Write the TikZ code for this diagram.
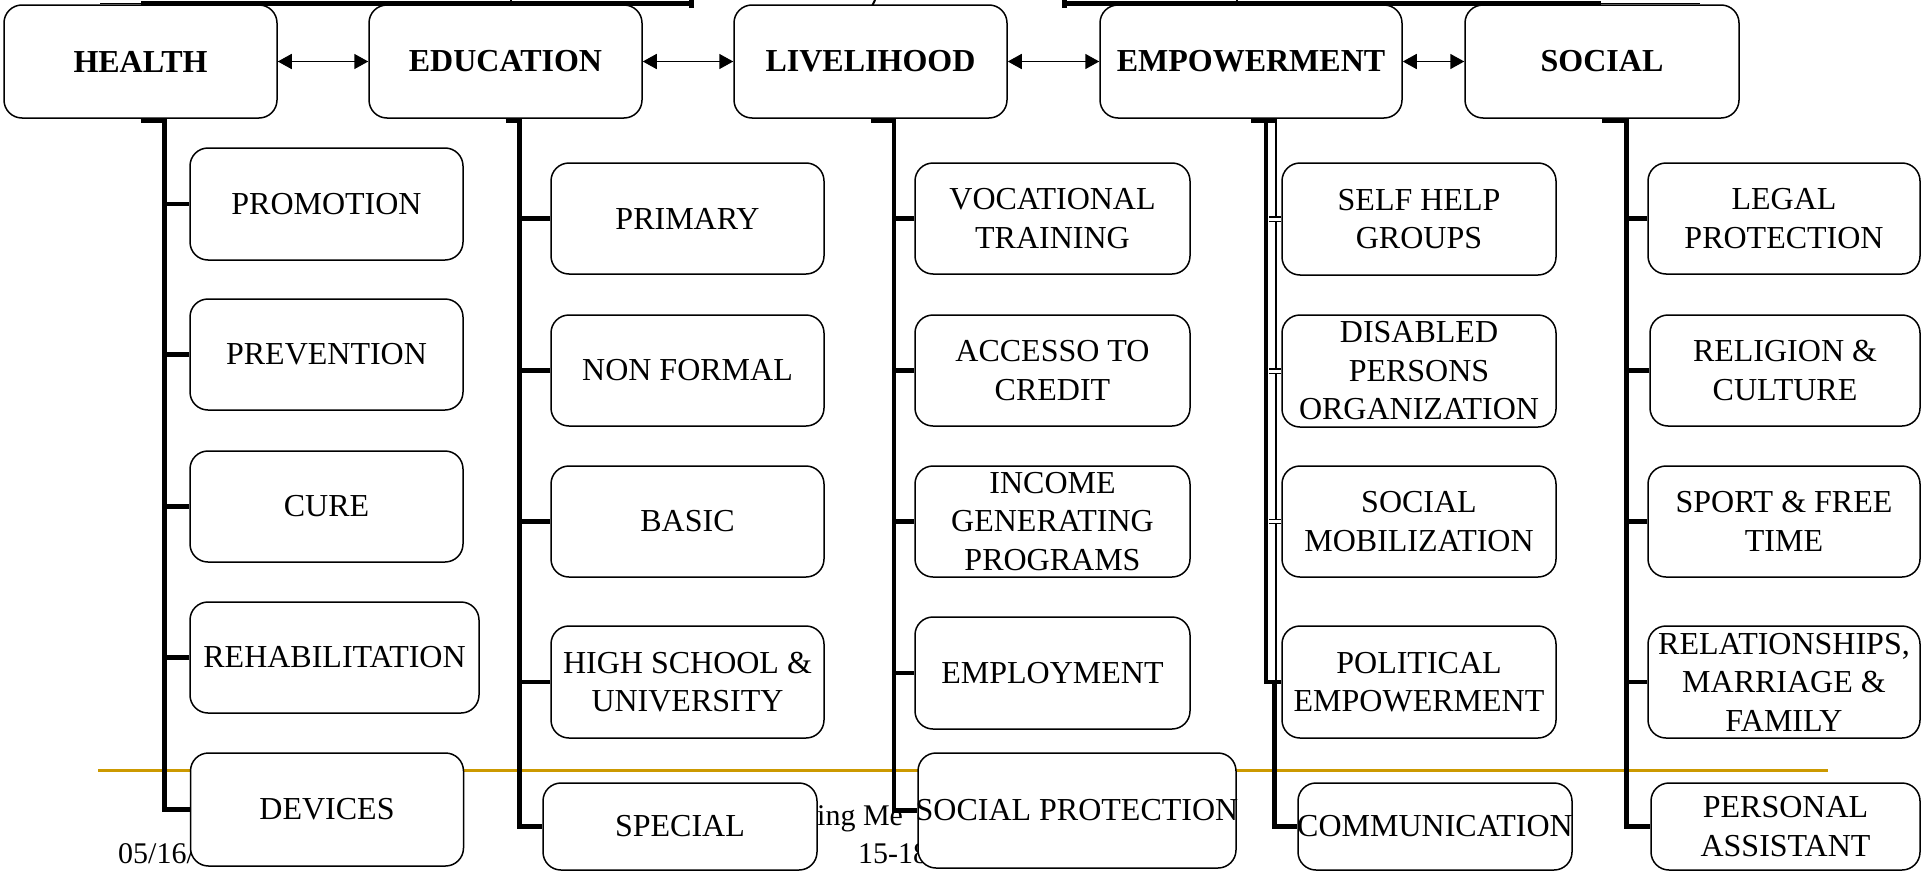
\documentclass[tikz,border=0pt]{standalone}
\usepackage{fontspec}
\setmainfont{Liberation Serif}
\usetikzlibrary{arrows.meta}
\definecolor{gold}{RGB}{204,153,0}
\begin{document}
\begin{tikzpicture}[x=1pt,y=-1pt,
  box/.style={draw,line width=1.5pt,rounded corners=18pt,fill=white,align=center,inner sep=0pt,
    font=\fontsize{32}{38.5}\selectfont},
  head/.style={box,font=\fontsize{32}{38.5}\selectfont\bfseries},
  spine/.style={line width=4.5pt,line join=miter},
  thinline/.style={line width=1.5pt},
  dbl/.style={draw,double=white,double distance=3pt,line width=1.2pt},
  arr/.style={line width=1.6pt,{Triangle[length=14pt,width=15pt]}-{Triangle[length=14pt,width=15pt]}},
  foot/.style={font=\fontsize{30}{36}\selectfont,inner sep=0pt}]
\useasboundingbox (0,0) rectangle (1921,870);
% fragments of the chart above
\draw[line width=1pt] (100,3.5) -- (141,3.5);
\draw[line width=5pt] (141,3.5) -- (693.5,3.5);
\draw[line width=5pt] (691,0) -- (691,7.5);
\draw[line width=1.5pt] (511,0) -- (511,3.5);
\draw[line width=2pt] (872,6) -- (875,0);
\draw[line width=5pt] (1064.5,0) -- (1064.5,7.5);
\draw[line width=5pt] (1062,3.5) -- (1601,3.5);
\draw[line width=1.5pt] (1237,0) -- (1237,3.5);
\draw[line width=1pt] (1601,3.5) -- (1700,3.5);
% footer (behind the boxes)
\draw[gold,line width=3.5pt] (98,770.5) -- (1828,770.5);
\node[foot,anchor=base west] (f1) at (118,863) {05/16/};
\node[foot,anchor=base west] (f2) at (817,825) {ing Me};
\node[foot,anchor=base west] (f3) at (858,863) {15-18};
% headings
\node[head,minimum width=273pt,minimum height=113pt] (H) at (140.5,61.5) {HEALTH};
\node[head,minimum width=273pt,minimum height=113pt] (E) at (505.5,61.5) {EDUCATION};
\node[head,minimum width=273pt,minimum height=113pt] (L) at (870.5,61.5) {LIVELIHOOD};
\node[head,minimum width=302pt,minimum height=113pt] (M) at (1251,61.5) {EMPOWERMENT};
\node[head,minimum width=274pt,minimum height=113pt] (S) at (1602,61.5) {SOCIAL};
\draw[arr] (H.east) -- (E.west);
\draw[arr] (E.east) -- (L.west);
\draw[arr] (L.east) -- (M.west);
\draw[arr] (M.east) -- (S.west);
% HEALTH column
\node[box,minimum width=273pt,minimum height=112pt] (h1) at (326.5,204) {PROMOTION};
\node[box,minimum width=273pt,minimum height=111pt] (h2) at (326.5,354.5) {PREVENTION};
\node[box,minimum width=273pt,minimum height=111pt] (h3) at (326.5,506.5) {CURE};
\node[box,minimum width=289pt,minimum height=111pt] (h4) at (334.5,657.5) {REHABILITATION};
\node[box,minimum width=273pt,minimum height=113pt] (h5) at (327,809.5) {DEVICES};
% EDUCATION column
\node[box,minimum width=273pt,minimum height=111pt] (e1) at (687.5,218.5) {PRIMARY};
\node[box,minimum width=273pt,minimum height=111pt] (e2) at (687.5,370.5) {NON FORMAL};
\node[box,minimum width=273pt,minimum height=111pt] (e3) at (687.5,521.5) {BASIC};
\node[box,minimum width=273pt,minimum height=112pt] (e4) at (687.5,682) {HIGH SCHOOL \&\\UNIVERSITY};
\node[box,minimum width=274pt,minimum height=87pt] (e5) at (680,826.5) {SPECIAL};
% LIVELIHOOD column
\node[box,minimum width=275pt,minimum height=111pt] (l1) at (1052.5,218.5) {VOCATIONAL\\TRAINING};
\node[box,minimum width=275pt,minimum height=111pt] (l2) at (1052.5,370.5) {ACCESSO TO\\CREDIT};
\node[box,minimum width=275pt,minimum height=111pt] (l3) at (1052.5,521.5) {INCOME\\GENERATING\\PROGRAMS};
\node[box,minimum width=275pt,minimum height=112pt] (l4) at (1052.5,673) {EMPLOYMENT};
\node[box,minimum width=318pt,minimum height=115pt] (l5) at (1077,810.5) {\makebox[0pt][c]{SOCIAL PROTECTION}};
% EMPOWERMENT column
\node[box,minimum width=274pt,minimum height=112pt] (m1) at (1419,219) {SELF HELP\\GROUPS};
\node[box,minimum width=274pt,minimum height=112pt] (m2) at (1419,371) {DISABLED\\PERSONS\\\makebox[0pt][c]{ORGANIZATION}};
\node[box,minimum width=274pt,minimum height=111pt] (m3) at (1419,521.5) {SOCIAL\\MOBILIZATION};
\node[box,minimum width=274pt,minimum height=112pt] (m4) at (1419,682) {POLITICAL\\EMPOWERMENT};
\node[box,minimum width=274pt,minimum height=87pt] (m5) at (1435,826.5) {\makebox[0pt][c]{COMMUNICATION}};
% SOCIAL column
\node[box,minimum width=272pt,minimum height=111pt] (s1) at (1784,218.5) {LEGAL\\PROTECTION};
\node[box,minimum width=270pt,minimum height=111pt] (s2) at (1785,370.5) {RELIGION \&\\CULTURE};
\node[box,minimum width=272pt,minimum height=111pt] (s3) at (1784,521.5) {SPORT \& FREE\\TIME};
\node[box,minimum width=272pt,minimum height=112pt] (s4) at (1784,682) {\makebox[0pt][c]{RELATIONSHIPS,}\\MARRIAGE \&\\FAMILY};
\node[box,minimum width=269pt,minimum height=87pt] (s5) at (1785.5,826.5) {PERSONAL\\ASSISTANT};
% spine positions
\coordinate (hs) at (164.5,0);
\coordinate (es) at (519.5,0);
\coordinate (ls) at (894,0);
\coordinate (ma) at (1266,0);
\coordinate (mab) at (1268.5,0);
\coordinate (mb) at (1276,0);
\coordinate (mc) at (1274.5,0);
\coordinate (ss) at (1626.5,0);
% HEALTH connectors
\draw[spine] ([yshift=-2.25pt]H.south) -| (h5.west -| hs) -- (h5.west);
\foreach \c in {h1,h2,h3,h4} \draw[spine] (\c.west) -- (\c.west -| hs);
% EDUCATION connectors
\draw[spine] ([yshift=-2.25pt]E.south) -| (e5.west -| es) -- (e5.west);
\foreach \c in {e1,e2,e3,e4} \draw[spine] (\c.west) -- (\c.west -| es);
% LIVELIHOOD connectors
\draw[spine] ([yshift=-2.25pt]L.south) -| (l5.west -| ls) -- (l5.west);
\foreach \c in {l1,l2,l3,l4} \draw[spine] (\c.west) -- (\c.west -| ls);
% EMPOWERMENT connectors
\draw[spine] ([yshift=-2.25pt]M.south) -| (m4.west -| ma) -- (m4.west);
\draw[spine] ([yshift=-2.25pt]M.south) -- ([yshift=-2.25pt,xshift=26pt]M.south);
\draw[thinline] ([yshift=-2pt]M.south -| mb) -- (m4.west -| mb);
\draw[spine] (m4.west -| mc) |- (m5.west);
\foreach \c in {m1,m2,m3} \draw[dbl] (\c.west) -- (\c.west -| mab);
% SOCIAL connectors
\draw[spine] ([yshift=-2.25pt]S.south) -| (s5.west -| ss) -- (s5.west);
\foreach \c in {s1,s2,s3,s4} \draw[spine] (\c.west) -- (\c.west -| ss);
\end{tikzpicture}
\end{document}
